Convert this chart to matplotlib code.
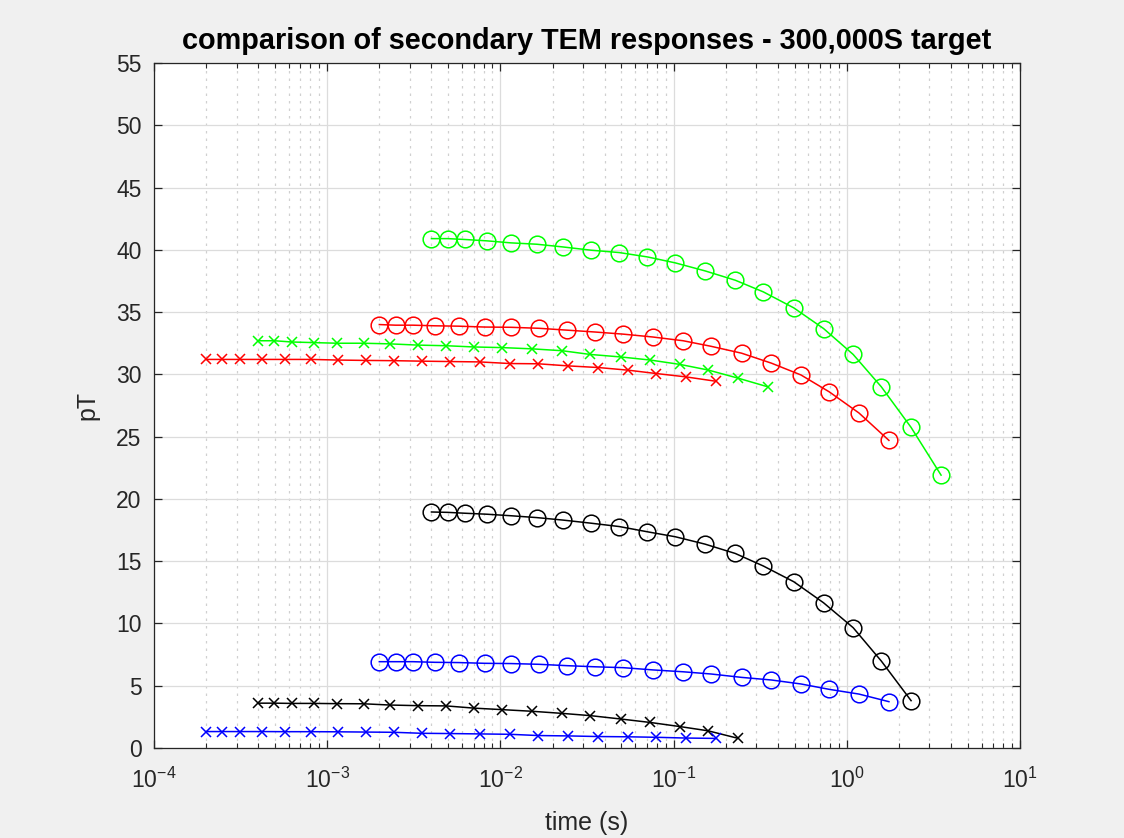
import matplotlib
matplotlib.use("Agg")
import matplotlib.pyplot as plt
from matplotlib.ticker import LogLocator, FixedLocator

plt.rcParams['font.family'] = ['Liberation Sans', 'DejaVu Sans']
plt.rcParams['mathtext.fontset'] = 'custom'
plt.rcParams['mathtext.rm'] = 'Liberation Sans'
plt.rcParams['mathtext.it'] = 'Liberation Sans:italic'
plt.rcParams['mathtext.bf'] = 'Liberation Sans:bold'
plt.rcParams['axes.unicode_minus'] = False

# gate times (s)
t_a = [2.0e-4, 2.48e-4, 3.12e-4, 4.19e-4, 5.73e-4, 8.11e-4, 1.15e-3, 1.67e-3,
       2.43e-3, 3.53e-3, 5.12e-3, 7.59e-3, 1.135e-2, 1.65e-2, 2.47e-2, 3.67e-2,
       5.44e-2, 7.91e-2, 0.1175, 0.175]
t_b = [4.0e-4, 4.96e-4, 6.24e-4, 8.38e-4, 1.146e-3, 1.622e-3, 2.30e-3, 3.34e-3,
       4.86e-3, 7.06e-3, 1.024e-2, 1.518e-2, 2.27e-2, 3.30e-2, 4.94e-2, 7.34e-2,
       0.1088, 0.1582, 0.235, 0.35]
t_c = [2.0e-3, 2.48e-3, 3.12e-3, 4.19e-3, 5.73e-3, 8.11e-3, 1.15e-2, 1.67e-2,
       2.43e-2, 3.53e-2, 5.12e-2, 7.59e-2, 0.1135, 0.165, 0.247, 0.367,
       0.544, 0.791, 1.175, 1.75]
t_d = [4.0e-3, 4.96e-3, 6.24e-3, 8.38e-3, 1.146e-2, 1.622e-2, 2.30e-2, 3.34e-2,
       4.86e-2, 7.06e-2, 0.1024, 0.1518, 0.227, 0.330, 0.494, 0.734,
       1.088, 1.582, 2.35, 3.50]

# secondary responses (pT)
green_o = [40.9, 40.9, 40.83, 40.72, 40.56, 40.45, 40.23, 39.97, 39.78, 39.43,
           38.95, 38.31, 37.56, 36.62, 35.34, 33.68, 31.6, 29.0, 25.74, 21.91]
red_o = [34.0, 33.95, 33.95, 33.9, 33.87, 33.8, 33.78, 33.7, 33.55, 33.4,
         33.23, 33.0, 32.7, 32.25, 31.7, 30.9, 29.95, 28.6, 26.9, 24.7]
black_o = [18.95, 18.92, 18.85, 18.77, 18.65, 18.5, 18.3, 18.05, 17.78, 17.36,
           16.96, 16.37, 15.62, 14.61, 13.35, 11.66, 9.66, 6.98, 3.8]
blue_o = [6.93, 6.93, 6.93, 6.88, 6.86, 6.8, 6.78, 6.72, 6.61, 6.52,
          6.45, 6.27, 6.12, 5.94, 5.67, 5.46, 5.14, 4.71, 4.33, 3.72]
green_x = [32.7, 32.7, 32.6, 32.55, 32.5, 32.5, 32.45, 32.35, 32.3, 32.2,
           32.15, 32.05, 31.9, 31.6, 31.4, 31.15, 30.8, 30.35, 29.7, 29.0]
red_x = [31.2, 31.2, 31.2, 31.2, 31.2, 31.2, 31.15, 31.12, 31.1, 31.06,
         31.03, 31.0, 30.87, 30.85, 30.68, 30.55, 30.34, 30.07, 29.8, 29.45]
black_x = [3.6, 3.6, 3.58, 3.58, 3.56, 3.55, 3.45, 3.4, 3.38, 3.2,
           3.08, 2.95, 2.78, 2.6, 2.33, 2.05, 1.72, 1.38, 0.78]
blue_x = [1.32, 1.32, 1.32, 1.32, 1.31, 1.31, 1.3, 1.28, 1.26, 1.18,
          1.16, 1.13, 1.1, 1.0, 0.97, 0.92, 0.9, 0.86, 0.8, 0.77]

y_ticks = [0, 5, 10, 15, 20, 25, 30, 35, 40, 45, 50, 55]

fig = plt.figure(figsize=(11.24, 8.38), dpi=100, facecolor='#f0f0f0')
ax = fig.add_axes([0.137, 0.1074, 0.7705, 0.8174])
ax.set_facecolor('white')

circ = dict(marker='o', markersize=12, markerfacecolor='none', markeredgewidth=1.1,
            linewidth=1.1)
cross = dict(marker='x', markersize=7.5, markeredgewidth=1.1, linewidth=1.1)

ax.semilogx(t_d, green_o, color=(0, 1, 0), **circ)
ax.semilogx(t_c, red_o, color=(1, 0, 0), **circ)
ax.semilogx(t_d[:len(black_o)], black_o, color='black', **circ)
ax.semilogx(t_c, blue_o, color=(0, 0, 1), **circ)
ax.semilogx(t_b, green_x, color=(0, 1, 0), **cross)
ax.semilogx(t_a, red_x, color=(1, 0, 0), **cross)
ax.semilogx(t_b[:len(black_x)], black_x, color='black', **cross)
ax.semilogx(t_a, blue_x, color=(0, 0, 1), **cross)

ax.set_xlim(1e-4, 10)
ax.set_ylim(0, 55)
ax.yaxis.set_major_locator(FixedLocator(y_ticks))
ax.xaxis.set_major_locator(LogLocator(base=10, numticks=10))
ax.xaxis.set_minor_locator(LogLocator(base=10, subs=range(2, 10), numticks=20))

ax.grid(True, which='major', color='#dcdcdc', linewidth=0.9, linestyle='-')
ax.grid(True, which='minor', axis='x', color='#d0d0d0', linewidth=0.9,
        linestyle=(0, (2, 4)))
ax.set_axisbelow(True)

for s in ax.spines.values():
    s.set_color('#262626')
    s.set_linewidth(0.9)
ax.tick_params(which='both', direction='in', top=True, right=True,
               colors='#262626', labelcolor='#262626', labelsize=16.5)
ax.tick_params(which='major', length=6, width=0.9)
ax.tick_params(axis='y', which='major', pad=9)
ax.tick_params(axis='x', which='major', pad=14)
ax.tick_params(which='minor', length=3.5, width=0.8)

ax.set_xlabel('time (s)', fontsize=18, color='#262626', labelpad=13)
ax.set_ylabel('pT', fontsize=18, color='#262626', labelpad=12)
ax.set_title('comparison of secondary TEM responses - 300,000S target',
             fontsize=20.8, fontweight='bold', color='black', pad=10)

fig.savefig('out.png', dpi=100, facecolor=fig.get_facecolor())
